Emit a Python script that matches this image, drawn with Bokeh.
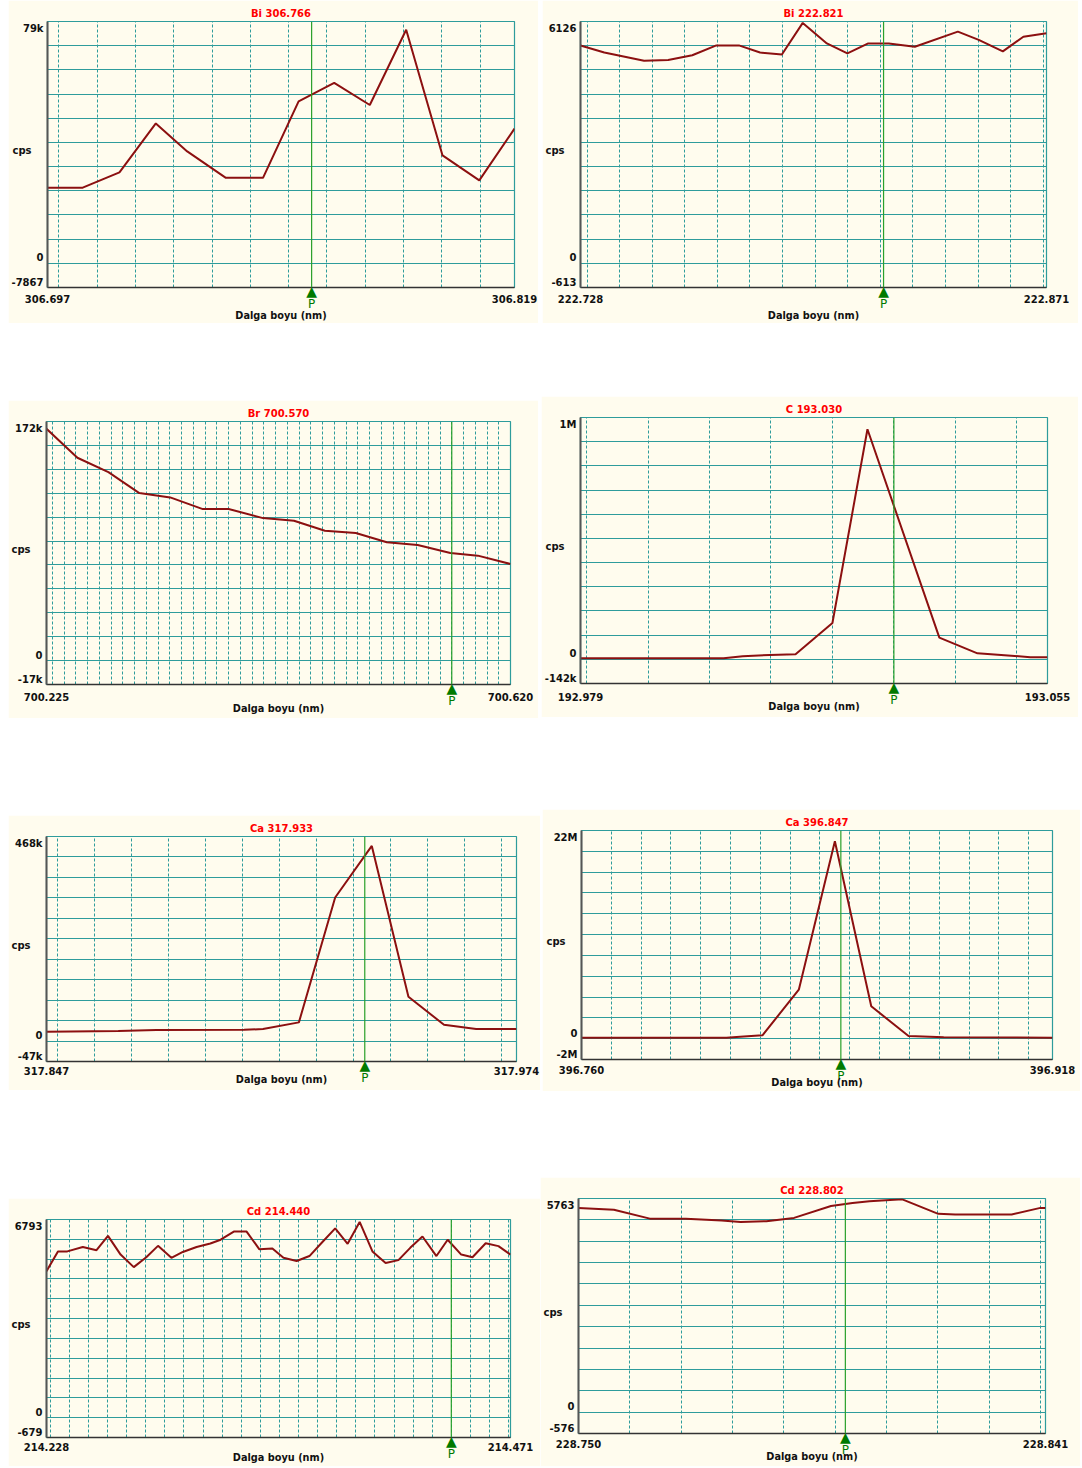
import math
from bokeh.plotting import figure
from bokeh.models import FixedTicker, Span, Spacer, PrintfTickFormatter, LinearAxis
from bokeh.layouts import row, column
from bokeh.embed import file_html
from bokeh.resources import INLINE

# ---------------- data ----------------
titles = ["Bi 306.766", "Bi 222.821", "Br 700.570", "C 193.030",
          "Ca 317.933", "Ca 396.847", "Cd 214.440", "Cd 228.802"]
peaks = [306.766, 222.821, 700.570, 193.030, 317.933, 396.847, 214.440, 228.802]
x_min = [306.697, 222.728, 700.225, 192.979, 317.847, 396.760, 214.228, 228.750]
x_max = [306.819, 222.871, 700.620, 193.055, 317.974, 396.918, 214.471, 228.841]
y_unit = [7867, 612.6, 17200, 142000, 46800, 2200000, 679.3, 576.3]
y_top_labels = ["79k", "6126", "172k", "1M", "468k", "22M", "6793", "5763"]
y_bot_labels = ["-7867", "-613", "-17k", "-142k", "-47k", "-2M", "-679", "-576"]

x1 = [306.697, 306.7062, 306.7158, 306.7253, 306.7335, 306.7436, 306.7533, 306.7626,
      306.7719, 306.7812, 306.7907, 306.8002, 306.8098, 306.819]
y1 = [24600, 24600, 29600, 45500, 36400, 27800, 27800, 52700, 58700, 51500, 76000,
      35100, 27000, 43800]

x2 = [222.728, 222.7353, 222.7475, 222.7549, 222.7623, 222.7697, 222.7766, 222.7831,
      222.7898, 222.7962, 222.8036, 222.8099, 222.8163, 222.8226, 222.8306, 222.8438,
      222.8502, 222.8576, 222.8639, 222.871]
y2 = [5520, 5340, 5130, 5150, 5270, 5520, 5520, 5340, 5290, 6090, 5570, 5320, 5570,
      5570, 5485, 5870, 5660, 5370, 5740, 5830]

x3 = [700.225, 700.2513, 700.2777, 700.304, 700.3303, 700.3581, 700.3801, 700.4093,
      700.4357, 700.462, 700.4883, 700.5147, 700.541, 700.5688, 700.5922, 700.620]
y3 = [166800, 145900, 135600, 120500, 117400, 109000, 109000, 102500, 100600, 93400,
      91800, 85100, 83100, 77400, 75500, 69500]

x4 = [192.979, 193.0023, 193.0054, 193.0098, 193.014, 193.020, 193.0257, 193.0374,
      193.0436, 193.0491, 193.0522, 193.055]
y4 = [5900, 5900, 17600, 25500, 29400, 213500, 1351000, 127300, 35300, 21500, 11700,
      11700]

x5 = [317.847, 317.8664, 317.8767, 317.9004, 317.9055, 317.9152, 317.925, 317.9349,
      317.9448, 317.9544, 317.9631, 317.974]
y5 = [21300, 22900, 25100, 25900, 27400, 42700, 328400, 446500, 101300, 37300, 27400,
      27400]

x6 = [396.760, 396.8086, 396.8132, 396.8207, 396.8329, 396.845, 396.8572, 396.8697,
      396.8815, 396.918]
y6 = [105800, 105800, 211500, 352600, 5182600, 20871500, 3419800, 282000, 141000,
      105800]

x7 = [214.228, 214.234, 214.2389, 214.247, 214.2542, 214.2602, 214.2668, 214.2737,
      214.2804, 214.2864, 214.2934, 214.2994, 214.3066, 214.3138, 214.3192, 214.3261,
      214.3328, 214.3395, 214.3463, 214.3521, 214.3590, 214.3657, 214.3725, 214.3792,
      214.3857, 214.392, 214.3987, 214.4056, 214.4123, 214.4186, 214.4249, 214.4322,
      214.4381, 214.4452, 214.4511, 214.458, 214.4647, 214.471]
y7 = [5020, 5700, 5700, 5850, 5740, 6230, 5590, 5160, 5510, 5890, 5480, 5680, 5850,
      5970, 6100, 6380, 6380, 5770, 5800, 5480, 5370, 5540, 6020, 6490, 5960, 6710,
      5700, 5300, 5400, 5830, 6210, 5540, 6100, 5590, 5500, 5980, 5880, 5590]

x8 = [228.750, 228.7569, 228.7639, 228.7709, 228.7779, 228.7816, 228.7866, 228.792,
      228.7992, 228.8034, 228.8067, 228.8131, 228.8201, 228.8234, 228.8344, 228.840,
      228.841]
y8 = [5510, 5460, 5220, 5220, 5170, 5130, 5150, 5240, 5560, 5640, 5690, 5740, 5350,
      5330, 5330, 5510, 5510]

xs = [x1, x2, x3, x4, x5, x6, x7, x8]
ys = [y1, y2, y3, y4, y5, y6, y7, y8]
grid_step = 0.01

# ---------------- layout geometry (page px, origin top-left) ----------------
# fig box (left, top, right, bottom), frame box (L, T, R, B)
geom = [
    ((8, 0, 538, 323), (45, 21, 514, 287)),
    ((542, 0, 1078, 323), (580, 21, 1046, 287)),
    ((8, 400, 538, 718), (44, 421, 510, 684)),
    ((541, 396, 1078, 717), (577, 417, 1047, 683)),
    ((8, 815, 540, 1090), (45, 836, 516, 1061)),
    ((542, 809, 1080, 1091), (581, 830, 1052, 1059)),
    ((8, 1198, 540, 1466), (46, 1219, 510, 1437)),
    ((540, 1177, 1080, 1466), (575, 1198, 1045, 1433)),
]
# centre offsets below the frame of: x tick labels, x axis title
x_lab_off = [(12, 28), (12, 28), (13, 24), (14, 23), (10, 18), (11, 23), (10, 20), (11, 23)]

BG = "#FFFCEE"
GRID = "#2E9C9C"
LINE = "#8C1010"
GREEN = "#2AA02A"
DKGREEN = "#007A00"
TXT = "#111111"
FONT = "DejaVu Sans"


def make_panel(i):
    (fl, ft, fr, fb), (L, T, R, B) = geom[i]
    u = y_unit[i]
    xmin, xmax = x_min[i], x_max[i]
    p = figure(width=fr - fl, height=fb - ft,
               x_range=(xmin, xmax), y_range=(-u, 10 * u),
               output_backend="svg", toolbar_location=None,
               min_border_left=L - fl, min_border_right=fr - R,
               min_border_top=T - ft, min_border_bottom=fb - B,
               background_fill_color=BG, border_fill_color=BG,
               outline_line_color=GRID, outline_line_width=1.2)
    p.title.text = titles[i]
    p.title.align = "center"
    p.title.text_color = "#FF0000"
    p.title.text_font = FONT
    p.title.text_font_size = "10px"
    p.title.text_font_style = "bold"
    p.title.standoff = 5

    # grids
    k0 = math.ceil(round(xmin / grid_step, 6))
    k1 = math.floor(round(xmax / grid_step, 6))
    vticks = [round(k * grid_step, 3) for k in range(k0, k1 + 1)]
    p.xgrid.ticker = FixedTicker(ticks=vticks)
    p.xgrid.grid_line_color = GRID
    p.xgrid.grid_line_dash = "3 2"
    p.xgrid.grid_line_width = 1
    p.ygrid.ticker = FixedTicker(ticks=[k * u for k in range(-1, 11)])
    p.ygrid.grid_line_color = GRID
    p.ygrid.grid_line_width = 1.2

    # ---- below: peak marker axes (inner), then wavelength axis ----
    def bare(ax):
        ax.major_tick_line_color = None
        ax.minor_tick_line_color = None
        ax.major_tick_out = 0
        ax.major_tick_in = 0
        ax.minor_tick_out = 0
        ax.minor_tick_in = 0

    tri = LinearAxis(ticker=FixedTicker(ticks=[peaks[i]]),
                     major_label_overrides={peaks[i]: "\u25B2"})
    bare(tri)
    tri.axis_line_color = "#333333"
    tri.axis_line_width = 1.5
    tri.major_label_standoff = -5
    tri.major_label_text_font = FONT
    tri.major_label_text_font_size = "14px"
    tri.major_label_text_color = DKGREEN

    pax = LinearAxis(ticker=FixedTicker(ticks=[peaks[i]]),
                     major_label_overrides={peaks[i]: "P"})
    bare(pax)
    pax.axis_line_color = None
    pax.major_label_standoff = -5
    pax.major_label_text_font = FONT
    pax.major_label_text_font_size = "12px"
    pax.major_label_text_color = DKGREEN

    xa = p.xaxis[0]
    bare(xa)
    xa.ticker = FixedTicker(ticks=[xmin, xmax])
    xa.formatter = PrintfTickFormatter(format="%.3f")
    xa.axis_line_color = None
    xa.major_label_text_font = FONT
    xa.major_label_text_font_style = "bold"
    xa.major_label_text_font_size = "10px"
    xa.major_label_text_color = TXT
    c1, c2 = x_lab_off[i]
    st = c1 - 31
    xa.major_label_standoff = st
    xa.axis_label = "Dalga boyu (nm)"
    xa.axis_label_text_font = FONT
    xa.axis_label_text_font_style = "bold"
    xa.axis_label_text_font_size = "9.75px"
    xa.axis_label_text_color = TXT
    xa.axis_label_standoff = c2 - 43 - st
    p.below = [tri, pax, xa]

    # ---- left: value labels and unit at their printed positions ----
    ppu = (B - T) / (11 * u)
    t_top = round(10 * u - 7 / ppu, 2)
    t_cps = round(4.5 * u + 4 / ppu, 2)
    t_zero = round(5.5 / ppu, 2)
    t_bot = round(-u + 5 / ppu, 2)
    ya = p.yaxis[0]
    bare(ya)
    ya.ticker = FixedTicker(ticks=[t_bot, t_zero, t_cps, t_top])
    ya.major_label_overrides = {t_bot: y_bot_labels[i], t_zero: "0",
                                t_cps: "cps\u2007\u2002", t_top: y_top_labels[i]}
    ya.axis_line_color = "#555555"
    ya.axis_line_width = 2
    ya.major_label_text_font = FONT
    ya.major_label_text_font_style = "bold"
    ya.major_label_text_font_size = "10px"
    ya.major_label_text_color = TXT
    ya.major_label_standoff = 4

    # spectrum
    p.line(xs[i], ys[i], line_color=LINE, line_width=2)

    # peak line
    p.add_layout(Span(location=peaks[i], dimension="height", line_color=GREEN,
                      line_width=1.2))
    return p


figs = [make_panel(i) for i in range(8)]

items = []
prev_bottom = 0
for a, b in [(0, 1), (2, 3), (4, 5), (6, 7)]:
    ga, gb = geom[a][0], geom[b][0]
    row_top = min(ga[1], gb[1])
    if row_top - prev_bottom > 0:
        items.append(Spacer(height=row_top - prev_bottom, width=10))

    def colw(g, f):
        kids = []
        if g[1] - row_top > 0:
            kids.append(Spacer(height=g[1] - row_top, width=g[2] - g[0]))
        kids.append(f)
        return column(*kids)

    rk = []
    if ga[0] > 0:
        rk.append(Spacer(width=ga[0], height=10))
    rk.append(colw(ga, figs[a]))
    if gb[0] - ga[2] > 0:
        rk.append(Spacer(width=gb[0] - ga[2], height=10))
    rk.append(colw(gb, figs[b]))
    items.append(row(*rk))
    prev_bottom = max(ga[3], gb[3])

layout = column(*items)
open("out.html", "w").write(file_html(layout, INLINE))
